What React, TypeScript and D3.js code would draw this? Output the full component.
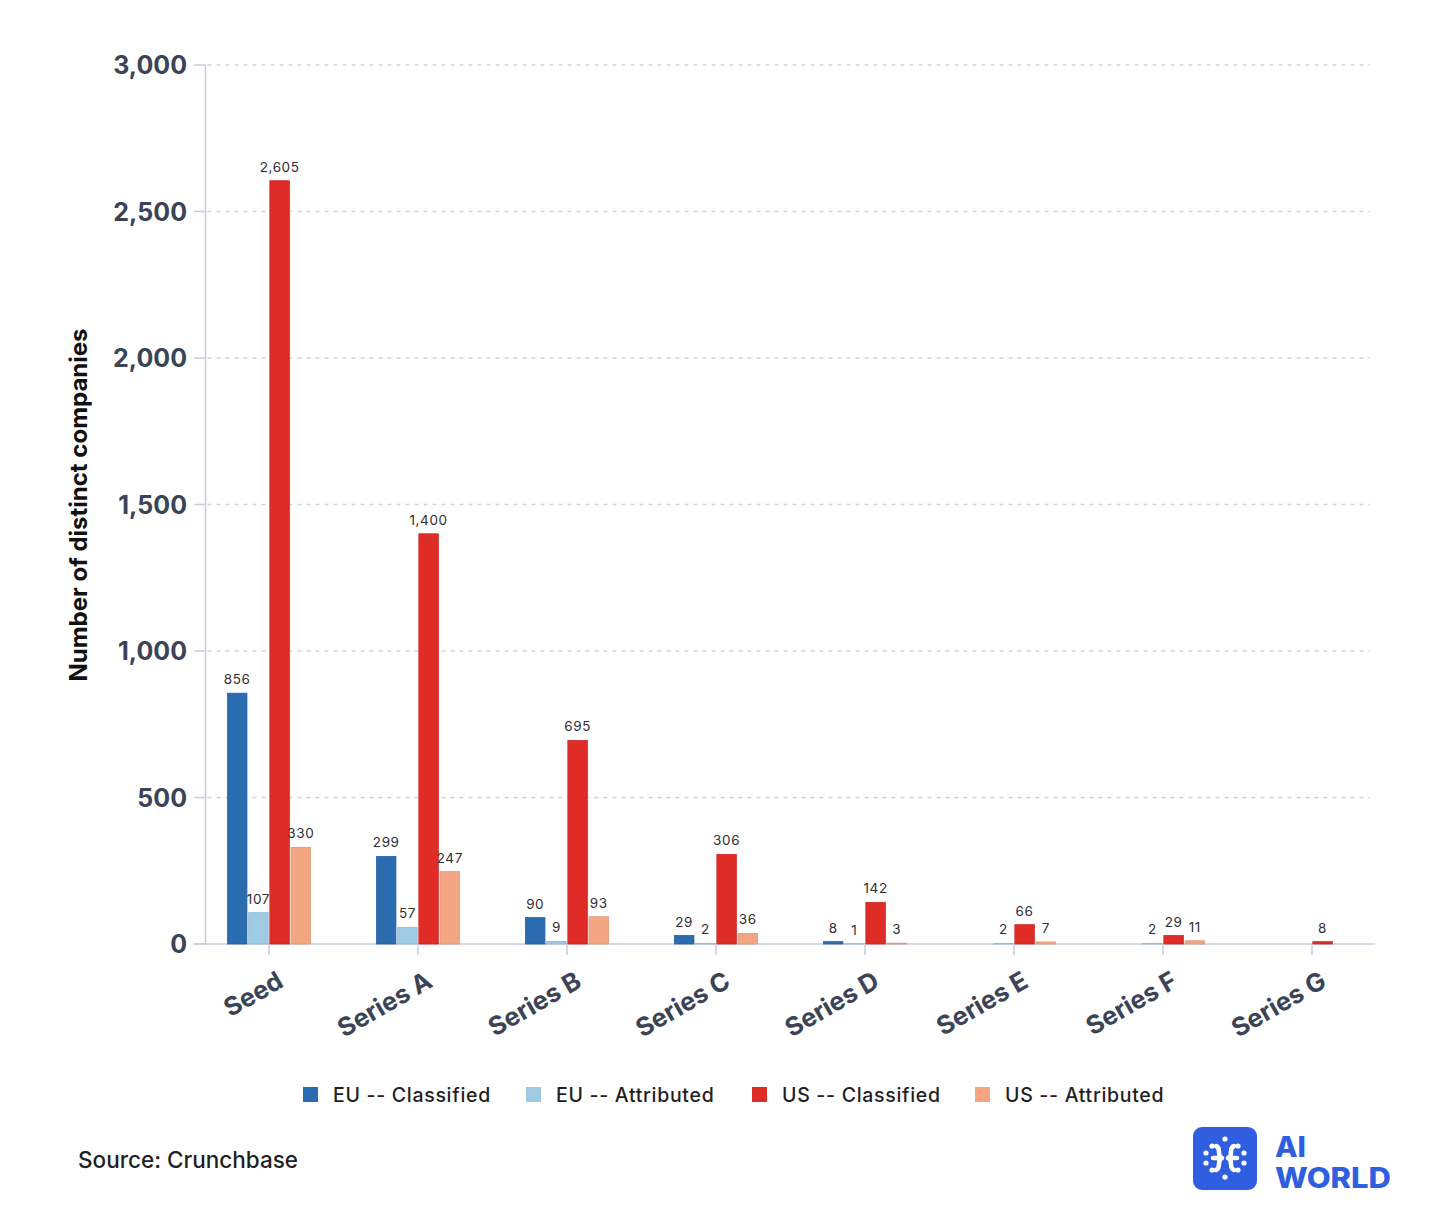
import React, { useEffect } from "react";
import * as d3 from "d3";

const categories = ["Seed", "Series A", "Series B", "Series C", "Series D", "Series E", "Series F", "Series G"];
const seriesNames = ["EU -- Classified", "EU -- Attributed", "US -- Classified", "US -- Attributed"];
const euClassified = [856, 299, 90, 29, 8, 0, 0, 0];
const euAttributed = [107, 57, 9, 2, 1, 2, 2, 0];
const usClassified = [2605, 1400, 695, 306, 142, 66, 29, 8];
const usAttributed = [330, 247, 93, 36, 3, 7, 11, 0];
const seriesColors = ["#2b6cb1", "#9fcae3", "#df2c27", "#f4a683"];
const yTicks = [0, 500, 1000, 1500, 2000, 2500, 3000];

const seriesValues = [euClassified, euAttributed, usClassified, usAttributed];

const FONT = "Inter, 'Noto Sans', sans-serif";

export default function App() {
  useEffect(() => {
    document.body.style.margin = "0";
  }, []);

  const W = 1456;
  const H = 1210;
  const y = d3.scaleLinear().domain([0, 3000]).range([944, 65]);
  const x0 = d3.scaleBand<string>().domain(categories).range([194.5, 1386.5]).padding(0);
  const x1 = d3
    .scaleBand<string>()
    .domain(seriesNames)
    .range([-42.4, 42.4])
    .paddingInner(0.08)
    .paddingOuter(0.04);
  const fmt = d3.format(",");
  const axisX = 205.5;
  const axisColor = "#c9cbd9";

  const legendX = [303, 526, 752, 975];

  return (
    <svg width={W} height={H} style={{ display: "block", background: "#fff" }} fontFamily={FONT}>
      {/* gridlines and y ticks */}
      {yTicks.map((t) => (
        <g key={t}>
          {t !== 0 && (
            <line
              x1={axisX + 2}
              x2={1370}
              y1={y(t)}
              y2={y(t)}
              stroke="#d4d4d8"
              strokeWidth={1.3}
              strokeDasharray="4 5"
            />
          )}
          <line x1={194} x2={axisX} y1={y(t)} y2={y(t)} stroke={axisColor} strokeWidth={1.5} />
          <text
            x={187}
            y={y(t)}
            dy="0.36em"
            textAnchor="end"
            fontSize={25}
            fontWeight={700}
            fill="#3b4456"
          >
            {fmt(t)}
          </text>
        </g>
      ))}
      {/* y axis line */}
      <line x1={axisX} x2={axisX} y1={y(3000)} y2={y(0)} stroke={axisColor} strokeWidth={1.5} />
      {/* x axis line */}
      <line x1={194} x2={1375} y1={y(0)} y2={y(0)} stroke={axisColor} strokeWidth={1.5} />

      {/* bars */}
      {categories.map((c, i) => {
        const cx = (x0(c) ?? 0) + x0.bandwidth() / 2;
        return (
          <g key={c}>
            {seriesNames.map((s, j) => {
              const v = seriesValues[j][i];
              const bx = cx + (x1(s) ?? 0);
              const bw = x1.bandwidth();
              const top = y(v);
              const col = seriesColors[j];
              return (
                <g key={s}>
                  {v > 0 && (
                    <rect
                      x={bx}
                      y={top}
                      width={bw}
                      height={y(0) - top}
                      fill={col}
                      stroke={d3.color(col)!.darker(0.25).toString()}
                      strokeWidth={0.8}
                    />
                  )}
                  {v > 0 && (
                    <text
                      x={bx + bw / 2}
                      y={top - 9}
                      textAnchor="middle"
                      fontSize={13.5}
                      letterSpacing={0.6}
                      fill="#2e2e33"
                    >
                      {fmt(v)}
                    </text>
                  )}
                </g>
              );
            })}
            <line x1={cx} x2={cx} y1={y(0)} y2={y(0) + 11} stroke={axisColor} strokeWidth={1.5} />
            <text
              transform={`translate(${cx + 16},${y(0) + 42}) rotate(-30)`}
              textAnchor="end"
              fontSize={25.5}
              fontWeight={700}
              fill="#3b4456"
            >
              {c}
            </text>
          </g>
        );
      })}

      {/* y axis title */}
      <text
        transform={`translate(87,505) rotate(-90)`}
        textAnchor="middle"
        fontSize={24}
        fontWeight={700}
        fill="#111"
      >
        Number of distinct companies
      </text>

      {/* legend */}
      {seriesNames.map((s, j) => (
        <g key={s} transform={`translate(${legendX[j]},1087)`}>
          <rect width={15} height={15} fill={seriesColors[j]} />
          <text x={30} y={7.5} dy="0.36em" fontSize={19.5} fontWeight={500} letterSpacing={0.7} fill="#1f1f24">
            {s}
          </text>
        </g>
      ))}

      {/* source */}
      <text x={78} y={1168} fontSize={22.5} fontWeight={500} fill="#1f1f24">
        Source: Crunchbase
      </text>

      {/* logo */}
      <g>
        <rect x={1193} y={1127} width={64} height={63} rx={9} fill="#2f5fe0" />
        <g fill="#fff" stroke="#fff" strokeLinecap="round">
          <circle cx={1225} cy={1139} r={2.6} stroke="none" />
          <circle cx={1225} cy={1177} r={2.6} stroke="none" />
          <circle cx={1212} cy={1146} r={2.6} stroke="none" />
          <circle cx={1206} cy={1153} r={2.6} stroke="none" />
          <circle cx={1206} cy={1163} r={2.6} stroke="none" />
          <circle cx={1212} cy={1170} r={2.6} stroke="none" />
          <path d="M1216,1146 C1222,1148 1216,1156 1222,1158 M1213,1158 L1222,1158 M1216,1170 C1222,1168 1216,1160 1222,1158" fill="none" strokeWidth={4.5} />
          <circle cx={1238} cy={1146} r={2.6} stroke="none" />
          <circle cx={1244} cy={1153} r={2.6} stroke="none" />
          <circle cx={1244} cy={1163} r={2.6} stroke="none" />
          <circle cx={1238} cy={1170} r={2.6} stroke="none" />
          <path d="M1234,1146 C1228,1148 1234,1156 1228,1158 M1237,1158 L1228,1158 M1234,1170 C1228,1168 1234,1160 1228,1158" fill="none" strokeWidth={4.5} />
        </g>
        <text x={1275} y={1157} fontSize={28} fontWeight={800} fill="#2f5fe0" textLength={31} lengthAdjust="spacingAndGlyphs">
          AI
        </text>
        <text x={1275} y={1188} fontSize={28} fontWeight={800} fill="#2f5fe0" textLength={116} lengthAdjust="spacingAndGlyphs">
          WORLD
        </text>
      </g>
    </svg>
  );
}
